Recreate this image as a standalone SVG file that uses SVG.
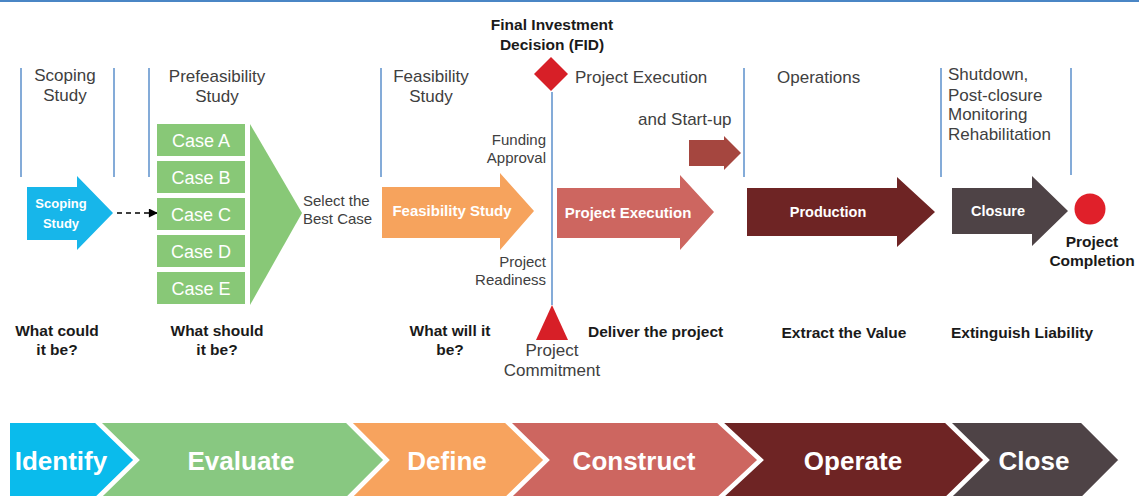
<svg xmlns="http://www.w3.org/2000/svg" width="1139" height="496" viewBox="0 0 1139 496">
<defs>
<style>
.hd{font-family:"Liberation Sans",Arial,sans-serif;font-size:17px;fill:#404040}
.sm{font-family:"Liberation Sans",Arial,sans-serif;font-size:15px;fill:#404040}
.bl{font-family:"Liberation Sans",Arial,sans-serif;font-size:15.5px;font-weight:bold;fill:#1a1a1a}
.wb{font-family:"Liberation Sans",Arial,sans-serif;font-weight:bold;fill:#ffffff}
.case{font-family:"Liberation Sans",Arial,sans-serif;font-size:18px;fill:#ffffff}
.big{font-family:"Liberation Sans",Arial,sans-serif;font-size:26px;font-weight:bold;fill:#ffffff}
.sep{stroke:#5b8fcb;stroke-width:1.5;fill:none}
.chev{stroke:#ffffff;stroke-width:4;stroke-linejoin:miter}
</style>
<marker id="ah" viewBox="0 0 10 10" refX="9" refY="5" markerWidth="10" markerHeight="9" orient="auto" markerUnits="userSpaceOnUse">
<path d="M0,0 L10,5 L0,10 z" fill="#000"/>
</marker>
</defs>
<rect width="1139" height="496" fill="#ffffff"/>
<line x1="0" y1="1" x2="1139" y2="1" stroke="#4a86c5" stroke-width="2"/>

<g id="separators">
<line class="sep" x1="21" y1="68" x2="21" y2="177"/>
<line class="sep" x1="114" y1="68" x2="114" y2="177"/>
<line class="sep" x1="149" y1="68" x2="149" y2="177"/>
<line class="sep" x1="381" y1="68" x2="381" y2="177"/>
<line class="sep" x1="744" y1="68" x2="744" y2="177"/>
<line class="sep" x1="941" y1="68" x2="941" y2="177"/>
<line class="sep" x1="1071" y1="68" x2="1071" y2="175"/>
<line class="sep" x1="552" y1="92" x2="552" y2="305"/>
</g>

<g id="headers">
<text class="hd" x="65" y="81" text-anchor="middle">Scoping</text>
<text class="hd" x="65" y="101" text-anchor="middle">Study</text>
<text class="hd" x="217" y="82" text-anchor="middle">Prefeasibility</text>
<text class="hd" x="217" y="102" text-anchor="middle">Study</text>
<text class="hd" x="431" y="82" text-anchor="middle">Feasibility</text>
<text class="hd" x="431" y="102" text-anchor="middle">Study</text>
<text class="hd" x="575" y="83">Project Execution</text>
<text class="hd" x="638" y="125">and Start-up</text>
<text class="hd" x="777" y="83">Operations</text>
<text class="hd" x="948" y="80">Shutdown,</text>
<text class="hd" x="948" y="101">Post-closure</text>
<text class="hd" x="948" y="120">Monitoring</text>
<text class="hd" x="948" y="140">Rehabilitation</text>
</g>

<g id="fid">
<text class="bl" x="552" y="30" text-anchor="middle">Final Investment</text>
<text class="bl" x="552" y="50" text-anchor="middle">Decision (FID)</text>
<polygon points="551,57 568,74 551,91 534,74" fill="#d71f27"/>
</g>

<g id="funding">
<text class="sm" x="546" y="145" text-anchor="end">Funding</text>
<text class="sm" x="546" y="163" text-anchor="end">Approval</text>
</g>
<g id="readiness">
<text class="sm" x="546" y="267" text-anchor="end">Project</text>
<text class="sm" x="546" y="285" text-anchor="end">Readiness</text>
</g>
<g id="commitment">
<polygon points="552,305 568,340 536,340" fill="#d71f27"/>
<text class="hd" x="552" y="356" text-anchor="middle">Project</text>
<text class="hd" x="552" y="376" text-anchor="middle">Commitment</text>
</g>

<g id="scoping">
<polygon points="27,187 77,187 77,176 113,213 77,250 77,240 27,240" fill="#17b6ea"/>
<text class="wb" x="61" y="208" font-size="13" text-anchor="middle">Scoping</text>
<text class="wb" x="61" y="228" font-size="13" text-anchor="middle">Study</text>
</g>

<g id="connectors">
<line x1="117" y1="213" x2="157" y2="213" stroke="#000" stroke-width="1.5" stroke-dasharray="5,4" marker-end="url(#ah)"/>
</g>

<g id="cases">
<polygon points="250,124 302,213 250,305" fill="#88c877"/>
<rect x="157" y="124" width="88" height="32" fill="#88c877"/>
<rect x="157" y="161" width="88" height="32" fill="#88c877"/>
<rect x="157" y="198" width="88" height="32" fill="#88c877"/>
<rect x="157" y="235" width="88" height="32" fill="#88c877"/>
<rect x="157" y="272" width="88" height="32" fill="#88c877"/>
<text class="case" x="201" y="147" text-anchor="middle">Case A</text>
<text class="case" x="201" y="184" text-anchor="middle">Case B</text>
<text class="case" x="201" y="221" text-anchor="middle">Case C</text>
<text class="case" x="201" y="258" text-anchor="middle">Case D</text>
<text class="case" x="201" y="295" text-anchor="middle">Case E</text>
</g>

<g id="select">
<text class="sm" x="303" y="206" fill="#1a1a1a">Select the</text>
<text class="sm" x="303" y="224" fill="#1a1a1a">Best Case</text>
</g>

<g id="feasibility">
<polygon points="382,187 500,187 500,173 534,211 500,250 500,238 382,238" fill="#f6a35d"/>
<text class="wb" x="452" y="216" font-size="15" text-anchor="middle">Feasibility Study</text>
</g>

<g id="execution">
<polygon points="557,188 680,188 680,175 714,212 680,250 680,238 557,238" fill="#cd6660"/>
<text class="wb" x="628" y="218" font-size="15" text-anchor="middle">Project Execution</text>
</g>

<g id="startup">
<polygon points="689,140 724,140 724,136 741,153 724,170 724,166 689,166" fill="#a5463f"/>
</g>

<g id="production">
<polygon points="747,188 897,188 897,177 935,212 897,247 897,236 747,236" fill="#6e2424"/>
<text class="wb" x="828" y="217" font-size="14.5" text-anchor="middle">Production</text>
</g>

<g id="closure">
<polygon points="952,188 1032,188 1032,176 1068,211 1032,246 1032,234 952,234" fill="#4e4346"/>
<text class="wb" x="998" y="216" font-size="14.5" text-anchor="middle">Closure</text>
</g>

<g id="completion">
<circle cx="1090" cy="209" r="15.5" fill="#e0202a"/>
<text class="bl" x="1092" y="247" font-size="15" text-anchor="middle">Project</text>
<text class="bl" x="1092" y="266" font-size="15" text-anchor="middle">Completion</text>
</g>

<g id="questions">
<text class="bl" x="57" y="336" text-anchor="middle">What could</text>
<text class="bl" x="57" y="355" text-anchor="middle">it be?</text>
<text class="bl" x="217" y="336" text-anchor="middle">What should</text>
<text class="bl" x="217" y="355" text-anchor="middle">it be?</text>
<text class="bl" x="450" y="336" text-anchor="middle">What will it</text>
<text class="bl" x="450" y="355" text-anchor="middle">be?</text>
<text class="bl" x="588" y="337">Deliver the project</text>
<text class="bl" x="844" y="338" text-anchor="middle">Extract the Value</text>
<text class="bl" x="1022" y="338" text-anchor="middle">Extinguish Liability</text>
</g>

<g id="phases">
<g id="ph-identify">
<polygon class="chev" points="8,421 96,421 136,460 96,499 8,499" fill="#0abbec"/>
<text class="big" x="61" y="470" text-anchor="middle">Identify</text>
</g>
<g id="ph-evaluate">
<polygon class="chev" points="97,421 347,421 386,460 347,499 97,499 137,460" fill="#88c881"/>
<text class="big" x="241" y="470" text-anchor="middle">Evaluate</text>
</g>
<g id="ph-define">
<polygon class="chev" points="348,421 506,421 546,460 506,499 348,499 387,460" fill="#f7a35e"/>
<text class="big" x="447" y="470" text-anchor="middle">Define</text>
</g>
<g id="ph-construct">
<polygon class="chev" points="507,421 718,421 760,460 718,499 507,499 547,460" fill="#cd6660"/>
<text class="big" x="634" y="470" text-anchor="middle">Construct</text>
</g>
<g id="ph-operate">
<polygon class="chev" points="719,421 946,421 986,460 946,499 719,499 761,460" fill="#6e2424"/>
<text class="big" x="853" y="470" text-anchor="middle">Operate</text>
</g>
<g id="ph-close">
<polygon class="chev" points="947,421 1082,421 1121,460 1082,499 947,499 987,460" fill="#4e4346"/>
<text class="big" x="1034" y="470" text-anchor="middle">Close</text>
</g>
</g>
</svg>
